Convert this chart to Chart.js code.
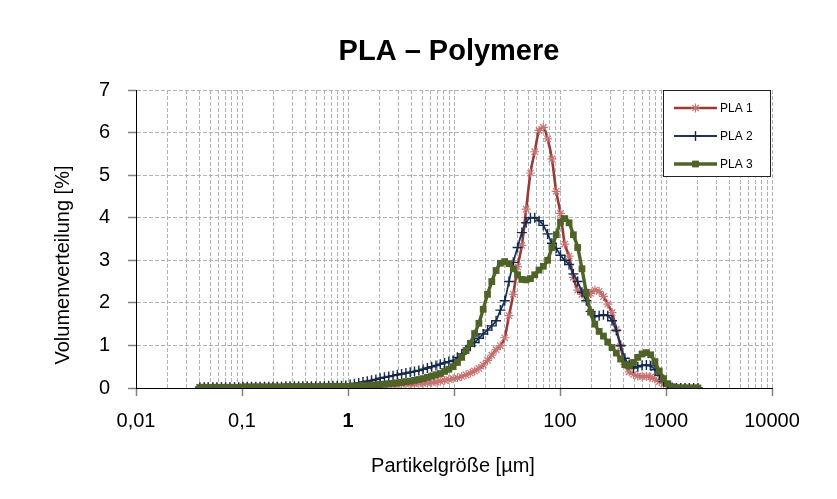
<!DOCTYPE html>
<html>
<head>
<meta charset="utf-8">
<script src="https://cdn.jsdelivr.net/npm/chart.js@4.4.0/dist/chart.umd.min.js"></script>
<style>
html, body { margin: 0; padding: 0; background: #fff; }
#wrap { width: 837px; height: 499px; position: relative; }
</style>
</head>
<body>
<div id="wrap"><canvas id="psdChart" width="837" height="499"></canvas></div>
<script>
//-- Partikelgrößen-Klassen [µm] --
const sizes = [
    0.040, 0.044, 0.048, 0.053, 0.058, 0.064, 0.070, 0.077, 0.085, 0.093,
    0.102, 0.112, 0.123, 0.135, 0.148, 0.163, 0.179, 0.196, 0.215, 0.236,
    0.259, 0.284, 0.312, 0.342, 0.375, 0.412, 0.452, 0.496, 0.545, 0.598,
    0.657, 0.721, 0.791, 0.869, 0.953, 1.047, 1.149, 1.261, 1.385, 1.520,
    1.668, 1.832, 2.011, 2.207, 2.423, 2.660, 2.920, 3.205, 3.519, 3.863,
    4.240, 4.655, 5.110, 5.610, 6.158, 6.760, 7.421, 8.147, 8.943, 9.817,
    10.78, 11.83, 12.99, 14.26, 15.65, 17.18, 18.86, 20.71, 22.73, 24.95,
    27.39, 30.07, 33.01, 36.24, 39.78, 43.67, 47.94, 52.62, 57.77, 63.41,
    69.61, 76.42, 83.89, 92.09, 101.1, 111.0, 121.8, 133.7, 146.8, 161.2,
    176.9, 194.2, 213.2, 234.1, 256.9, 282.1, 309.6, 339.9, 373.1, 409.6,
    449.7, 493.6, 541.9, 594.9, 653.0, 716.9, 786.9, 863.9, 948.3, 1041,
    1143, 1255, 1377, 1512, 1660, 1822, 2000
];

//-- Volumenverteilung [%] je Probe --
const pla1 = [
    0.02, 0.02, 0.02, 0.02, 0.02, 0.02, 0.02, 0.02, 0.02, 0.02,
    0.03, 0.03, 0.03, 0.03, 0.03, 0.03, 0.03, 0.03, 0.03, 0.03,
    0.03, 0.03, 0.03, 0.03, 0.03, 0.03, 0.03, 0.03, 0.03, 0.03,
    0.03, 0.03, 0.03, 0.03, 0.03, 0.03, 0.04, 0.04, 0.05, 0.05,
    0.05, 0.06, 0.06, 0.07, 0.07, 0.08, 0.08, 0.09, 0.09, 0.10,
    0.10, 0.11, 0.11, 0.12, 0.13, 0.14, 0.16, 0.18, 0.20, 0.22,
    0.24, 0.27, 0.31, 0.35, 0.40, 0.46, 0.54, 0.65, 0.77, 0.90,
    0.99, 1.18, 1.70, 2.20, 2.85, 3.35, 4.20, 5.05, 5.55, 6.05,
    6.12, 5.85, 5.38, 4.62, 4.10, 3.38, 3.10, 2.60, 2.30, 2.20,
    2.15, 2.22, 2.30, 2.27, 2.15, 1.97, 1.77, 1.38, 0.98, 0.55,
    0.38, 0.32, 0.28, 0.27, 0.27, 0.26, 0.21, 0.15, 0.10, 0.04,
    0.01, 0, 0, 0, 0, 0, 0
];
const pla2 = [
    0.02, 0.02, 0.02, 0.02, 0.02, 0.02, 0.02, 0.02, 0.02, 0.02,
    0.03, 0.03, 0.03, 0.03, 0.03, 0.03, 0.03, 0.03, 0.03, 0.03,
    0.04, 0.04, 0.04, 0.04, 0.04, 0.04, 0.04, 0.04, 0.04, 0.04,
    0.05, 0.05, 0.05, 0.05, 0.06, 0.08, 0.10, 0.12, 0.14, 0.16,
    0.18, 0.20, 0.23, 0.25, 0.27, 0.29, 0.31, 0.33, 0.35, 0.37,
    0.39, 0.41, 0.44, 0.47, 0.50, 0.53, 0.56, 0.59, 0.62, 0.65,
    0.72, 0.80, 0.90, 0.98, 1.07, 1.17, 1.27, 1.36, 1.46, 1.58,
    1.83, 2.05, 2.50, 2.95, 3.30, 3.65, 3.88, 4.00, 4.00, 3.93,
    3.82, 3.62, 3.40, 3.28, 3.12, 3.00, 2.90, 2.68, 2.50, 2.25,
    2.05, 1.80, 1.68, 1.70, 1.72, 1.70, 1.58, 1.35, 1.00, 0.70,
    0.55, 0.47, 0.50, 0.53, 0.54, 0.52, 0.43, 0.30, 0.15, 0.05,
    0.01, 0, 0, 0, 0, 0, 0
];
const pla3 = [
    0.01, 0.01, 0.01, 0.01, 0.01, 0.01, 0.01, 0.01, 0.01, 0.01,
    0.02, 0.02, 0.02, 0.02, 0.02, 0.02, 0.02, 0.02, 0.02, 0.02,
    0.03, 0.03, 0.03, 0.03, 0.03, 0.03, 0.03, 0.03, 0.03, 0.03,
    0.04, 0.04, 0.04, 0.04, 0.04, 0.04, 0.05, 0.05, 0.06, 0.06,
    0.07, 0.07, 0.08, 0.09, 0.10, 0.11, 0.12, 0.13, 0.15, 0.16,
    0.18, 0.20, 0.22, 0.25, 0.28, 0.31, 0.34, 0.39, 0.44, 0.50,
    0.60, 0.72, 0.88, 1.05, 1.28, 1.52, 1.85, 2.20, 2.50, 2.76,
    2.93, 2.97, 2.92, 2.80, 2.66, 2.55, 2.54, 2.57, 2.66, 2.77,
    2.86, 3.00, 3.30, 3.60, 3.90, 3.98, 3.88, 3.60, 3.30, 2.80,
    2.25, 1.78, 1.50, 1.33, 1.22, 1.08, 0.95, 0.82, 0.68, 0.55,
    0.52, 0.60, 0.72, 0.80, 0.83, 0.78, 0.62, 0.40, 0.22, 0.10,
    0.03, 0.01, 0, 0, 0, 0, 0
];

//-- Achsenbeschriftung --
const decadeValues = [0.01, 0.1, 1, 10, 100, 1000, 10000];
const decadeLabels = ['0,01', '0,1', '1', '10', '100', '1000', '10000'];
const seriesNames = ['PLA 1', 'PLA 2', 'PLA 3'];

//-- Gitterlinien bei 1..9 je Dekade --
const gridValues = [];
decadeValues.forEach((d, k) => {
    const last = k === decadeValues.length - 1 ? 1 : 9;
    for (let m = 1; m <= last; m++) gridValues.push(Number((m * d).toPrecision(4)));
});

const toPoints = vals => sizes.map((s, i) => ({ x: s, y: vals[i] }));

const styles = [
    { line: '#983a3a', width: 2.6, point: 'star', radius: 4.5, pcolor: '#c97474', pwidth: 1.2 },
    { line: '#1c355c', width: 1.8, point: 'cross', radius: 5, pcolor: '#15294a', pwidth: 1.4 },
    { line: '#4f6228', width: 3.4, point: 'rect', radius: 4.8, pcolor: '#4f6228', pwidth: 0 }
];

const datasets = [pla1, pla2, pla3].map((vals, i) => ({
    label: seriesNames[i],
    data: toPoints(vals),
    borderColor: styles[i].line,
    borderWidth: styles[i].width,
    pointStyle: styles[i].point,
    pointRadius: styles[i].radius,
    pointBorderColor: styles[i].pcolor,
    pointBackgroundColor: styles[i].pcolor,
    pointBorderWidth: styles[i].pwidth,
    cubicInterpolationMode: 'monotone',
    fill: false,
    order: 3 - i
}));

//-- Marker für die Legende --
function drawMarker(ctx, st, x, y) {
    const r = st.radius;
    ctx.save();
    ctx.strokeStyle = st.pcolor;
    ctx.fillStyle = st.pcolor;
    ctx.lineWidth = st.pwidth || 1;
    ctx.beginPath();
    if (st.point === 'rect') {
        const s = r * Math.SQRT1_2;
        ctx.fillRect(x - s, y - s, 2 * s, 2 * s);
    } else if (st.point === 'cross') {
        ctx.moveTo(x - r, y); ctx.lineTo(x + r, y);
        ctx.moveTo(x, y - r); ctx.lineTo(x, y + r);
        ctx.stroke();
    } else {
        const d = r * Math.SQRT1_2;
        ctx.moveTo(x - r, y); ctx.lineTo(x + r, y);
        ctx.moveTo(x, y - r); ctx.lineTo(x, y + r);
        ctx.moveTo(x - d, y - d); ctx.lineTo(x + d, y + d);
        ctx.moveTo(x - d, y + d); ctx.lineTo(x + d, y - d);
        ctx.stroke();
    }
    ctx.restore();
}

//-- Titel, Achsentitel und Legende selbst zeichnen --
const decorPlugin = {
    id: 'decor',
    afterDraw(chart) {
        const ctx = chart.ctx;
        ctx.save();
        ctx.fillStyle = '#000';
        ctx.textBaseline = 'alphabetic';
        ctx.textAlign = 'center';
        ctx.font = 'bold 29px "Liberation Sans", Arial, sans-serif';
        ctx.fillText('PLA \u2013 Polymere', 449, 60);

        ctx.font = '20px "Liberation Sans", Arial, sans-serif';
        ctx.fillText('Partikelgröße [µm]', 453, 471.5);

        ctx.save();
        ctx.translate(69, 265);
        ctx.rotate(-Math.PI / 2);
        ctx.fillText('Volumenverteilung [%]', 0, 0);
        ctx.restore();

        //-- Legende --
        ctx.fillStyle = '#fff';
        ctx.fillRect(663.5, 90.5, 107, 86);
        ctx.strokeStyle = '#222';
        ctx.lineWidth = 1;
        ctx.strokeRect(663.5, 90.5, 107, 86);
        ctx.font = '12px "Liberation Sans", Arial, sans-serif';
        ctx.textAlign = 'left';
        ctx.textBaseline = 'middle';
        [108, 136, 164].forEach((y, i) => {
            const st = styles[i];
            ctx.strokeStyle = st.line;
            ctx.lineWidth = st.width;
            ctx.beginPath();
            ctx.moveTo(674, y);
            ctx.lineTo(717, y);
            ctx.stroke();
            drawMarker(ctx, st, 695.5, y);
            ctx.fillStyle = '#000';
            ctx.fillText(seriesNames[i], 720, y + 1);
        });
        ctx.restore();
    }
};

const gridColor = '#b2b2b2';

new Chart(document.getElementById('psdChart').getContext('2d'), {
    type: 'line',
    data: { datasets },
    plugins: [decorPlugin],
    options: {
        responsive: false,
        animation: false,
        layout: { padding: { left: 0, right: 65, top: 90, bottom: 0 } },
        plugins: {
            legend: { display: false },
            title: { display: false },
            tooltip: { enabled: false }
        },
        scales: {
            x: {
                type: 'logarithmic',
                min: 0.01,
                max: 10000,
                afterBuildTicks: scale => {
                    scale.ticks = gridValues.map(v => ({ value: v }));
                },
                afterFit: scale => { scale.height = 111; },
                ticks: {
                    autoSkip: false,
                    maxRotation: 0,
                    minRotation: 0,
                    padding: 13,
                    color: '#000',
                    font: ctx => (ctx.tick && ctx.tick.value === 1)
                        ? { family: '"Liberation Sans", Arial, sans-serif', size: 20, weight: 'bold' }
                        : { family: '"Liberation Sans", Arial, sans-serif', size: 20 },
                    callback: value => {
                        const k = decadeValues.indexOf(value);
                        return k >= 0 ? decadeLabels[k] : '';
                    }
                },
                grid: {
                    color: gridColor,
                    lineWidth: 1,
                    tickLength: 8,
                    tickWidth: 1.5,
                    tickColor: ctx => (ctx.tick && decadeValues.indexOf(ctx.tick.value) >= 0) ? '#808080' : 'rgba(0,0,0,0)'
                },
                border: { display: true, color: '#000', width: 1, dash: [4, 2] }
            },
            y: {
                type: 'linear',
                min: 0,
                max: 7,
                afterFit: scale => { scale.width = 136; },
                ticks: {
                    stepSize: 1,
                    padding: 18,
                    color: '#000',
                    font: { family: '"Liberation Sans", Arial, sans-serif', size: 20 }
                },
                grid: {
                    color: gridColor,
                    lineWidth: 1,
                    tickLength: 8,
                    tickWidth: 1.5,
                    tickColor: '#808080'
                },
                border: { display: true, color: '#000', width: 1, dash: [4, 2] }
            }
        }
    }
});
</script>
</body>
</html>
